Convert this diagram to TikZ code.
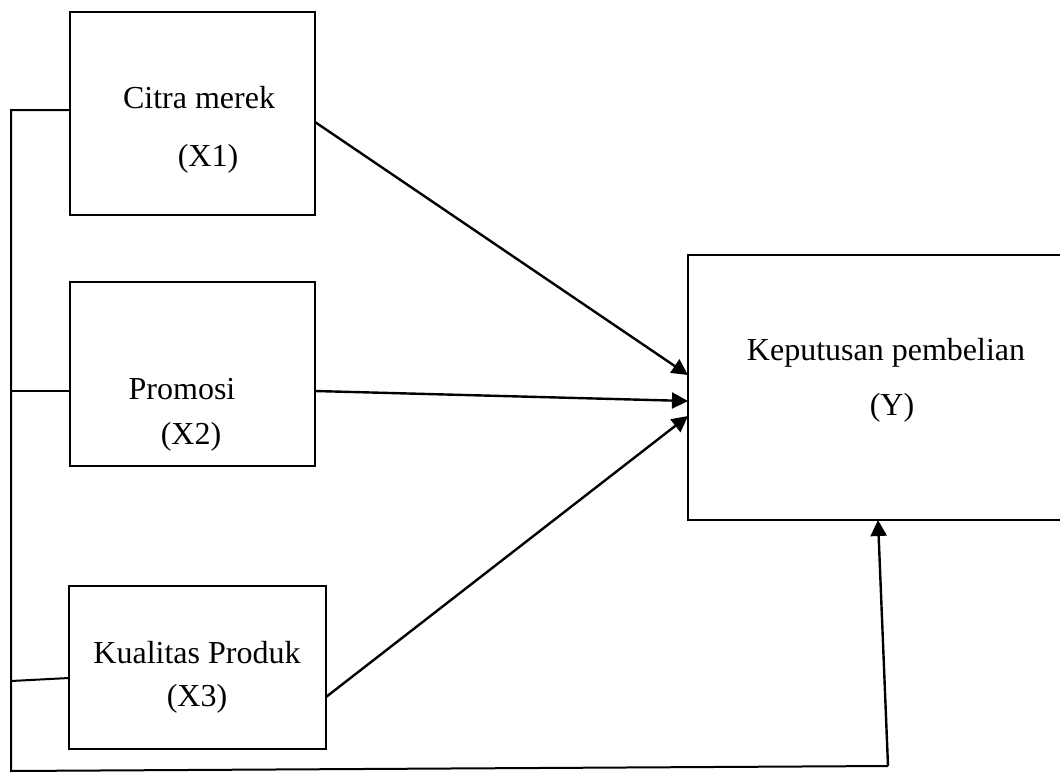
\documentclass[tikz,border=0pt]{standalone}
\usepackage{fontspec}
\setmainfont{Liberation Serif}
\usetikzlibrary{arrows.meta}
\begin{document}
\begin{tikzpicture}[x=0.5pt,y=-0.5pt,
  box/.style={draw=black,line width=0.8pt},
  lbl/.style={font=\fontsize{16}{19}\selectfont,inner sep=0pt,anchor=center},
  conn/.style={draw=black,line width=1pt},
  arr/.style={draw=black,line width=1.2pt,-{Triangle[length=8pt,width=8pt]}}]
\useasboundingbox (0,0) rectangle (1060,776);
\clip (0,0) rectangle (1060,776);
% boxes
\draw[box] (70,12) rectangle (315,215);
\draw[box] (70,282) rectangle (315,466);
\draw[box] (69,586) rectangle (326,749);
\draw[box] (688,255) rectangle (1080,520);
% labels
\node[lbl] (t1a) at (199,98) {Citra merek};
\node[lbl] (t1b) at (208,159) {(X1)};
\node[lbl] (t2a) at (182,389) {Promosi};
\node[lbl] (t2b) at (191,437) {(X2)};
\node[lbl] (t3a) at (197,653) {Kualitas Produk};
\node[lbl] (t3b) at (197,699) {(X3)};
\node[lbl] (tya) at (886,353) {Keputusan pembelian};
\node[lbl] (tyb) at (892,408) {(Y)};
% endpoints
\coordinate (x1w) at (70,110);
\coordinate (x2w) at (70,391);
\coordinate (x3w) at (69,678);
\coordinate (x1e) at (315,122);
\coordinate (x2e) at (315,391);
\coordinate (x3e) at (326,697);
\coordinate (ya) at (688,375);
\coordinate (yb) at (688,401);
\coordinate (yc) at (688,416);
\coordinate (yd) at (878,520);
\coordinate (l1) at (11,110);
\coordinate (l2) at (11,391);
\coordinate (l3) at (11,681);
\coordinate (lb) at (11,771);
\coordinate (rb) at (888,766);
% arrows to Y
\draw[arr] (x1e) -- (ya);
\draw[arr] (x2e) -- (yb);
\draw[arr] (x3e) -- (yc);
% left bus
\draw[conn] (x1w) -- (l1) -- (lb) -- (rb);
\draw[arr] (rb) -- (yd);
\draw[conn] (x2w) -- (l2);
\draw[conn] (x3w) -- (l3);
\end{tikzpicture}
\end{document}
